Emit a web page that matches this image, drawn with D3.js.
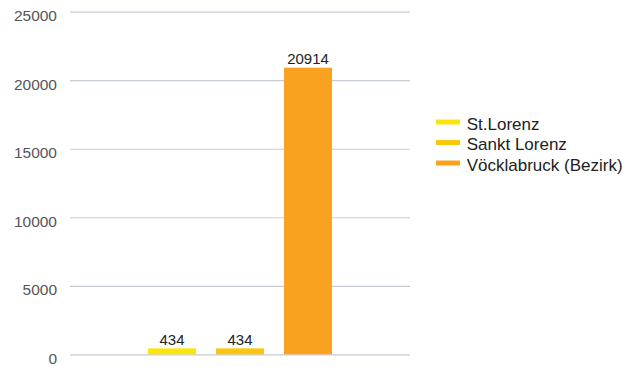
<!DOCTYPE html>
<html>
<head>
<meta charset="utf-8">
<script src="https://cdn.jsdelivr.net/npm/d3@7"></script>
<style>
  html, body { margin: 0; padding: 0; background: #fff; }
  svg { display: block; font-family: "Liberation Sans", Arial, sans-serif; }
</style>
</head>
<body>
<svg id="chart" width="640" height="367"></svg>
<script>
// Population figures
const seriesNames = ["St.Lorenz", "Sankt Lorenz", "Vöcklabruck (Bezirk)"];
const seriesValues = [434, 434, 20914];
const seriesColors = ["#fce50b", "#f9c70d", "#f9a21f"];
const yTicks = [0, 5000, 10000, 15000, 20000, 25000];

const svg = d3.select("#chart");
const plot = { left: 70, right: 410, top: 11.7, bottom: 354.3 };

const y = d3.scaleLinear().domain([0, 25000]).range([plot.bottom, plot.top]);
const x = d3.scaleBand()
  .domain(seriesNames)
  .range([148, 332])
  .paddingInner(20 / 68)
  .paddingOuter(0);

// Horizontal gridlines and tick labels
const yAxis = d3.axisLeft(y)
  .tickValues(yTicks)
  .tickSize(-(plot.right - plot.left))
  .tickPadding(13)
  .tickFormat(d3.format("d"));

const gAxis = svg.append("g")
  .attr("transform", `translate(${plot.left},0)`)
  .call(yAxis);
gAxis.select(".domain").remove();
gAxis.selectAll(".tick line").attr("stroke", "#c5ccd3").attr("stroke-width", 1.2);
gAxis.selectAll(".tick text")
  .attr("fill", "#555")
  .style("font-size", "15.5px")
  .attr("dy", "0.58em");

// Bars
svg.append("g").selectAll("rect")
  .data(seriesValues)
  .join("rect")
  .attr("x", (d, i) => x(seriesNames[i]))
  .attr("width", x.bandwidth())
  .attr("y", d => y(d))
  .attr("height", d => y(0) - y(d))
  .attr("fill", (d, i) => seriesColors[i]);

// Value labels
svg.append("g").selectAll("text")
  .data(seriesValues)
  .join("text")
  .attr("x", (d, i) => x(seriesNames[i]) + x.bandwidth() / 2)
  .attr("y", d => y(d) - 3.6)
  .attr("text-anchor", "middle")
  .attr("fill", "#222")
  .style("font-size", "15px")
  .text(d => d);

// Legend
const legend = svg.append("g").attr("transform", "translate(436,122)");
const rows = legend.selectAll("g")
  .data(seriesNames)
  .join("g")
  .attr("transform", (d, i) => `translate(0,${i * 20.5})`);
rows.append("rect")
  .attr("x", 0).attr("y", -2.5)
  .attr("width", 24).attr("height", 5)
  .attr("fill", (d, i) => seriesColors[i]);
rows.append("text")
  .attr("x", 30.7).attr("y", 7.5)
  .attr("fill", "#222")
  .style("font-size", "17px")
  .text(d => d);
</script>
</body>
</html>
